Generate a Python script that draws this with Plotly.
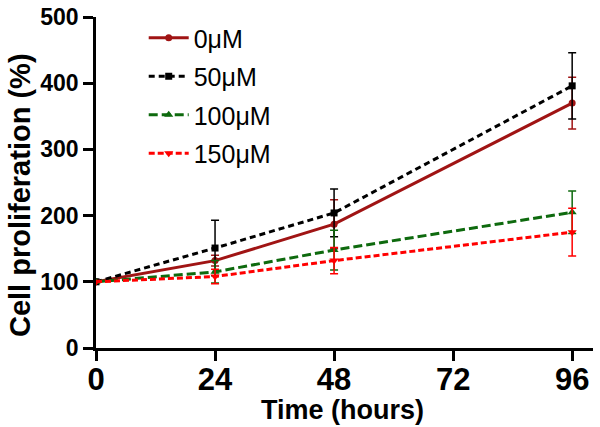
import plotly.graph_objects as go

time_h = [0, 24, 48, 96]
series_names = ["0μM", "50μM", "100μM", "150μM"]
val_0 = [100, 132, 187, 370]
err_0 = [0, 8, 37, 39]
val_50 = [100, 151, 204, 396]
err_50 = [0, 42, 36, 50]
val_100 = [100, 115, 148, 205]
err_100 = [0, 17, 30, 32]
val_150 = [100, 108, 132, 175]
err_150 = [0, 11, 20, 36]
x_ticks = [0, 24, 48, 72, 96]
y_ticks = [0, 100, 200, 300, 400, 500]

styles = [
    dict(color="#A01414", dash="solid", symbol="circle", size=7),
    dict(color="#000000", dash="6px,4px", symbol="square", size=7),
    dict(color="#0E6A0E", dash="9px,4px", symbol="triangle-up", size=8),
    dict(color="#FF0000", dash="6px,3px", symbol="triangle-down", size=8),
]
vals = [val_0, val_50, val_100, val_150]
errs = [err_0, err_50, err_100, err_150]

fig = go.Figure()
for name, v, e, st in zip(series_names, vals, errs, styles):
    fig.add_trace(go.Scatter(
        x=time_h, y=v, name=name, mode="lines+markers",
        legendgroup=name,
        line=dict(color=st["color"], width=3, dash=st["dash"]),
        marker=dict(color=st["color"], symbol=st["symbol"], size=st["size"]),
        error_y=dict(type="data", array=e, visible=True, color=st["color"],
                     thickness=1.5, width=4),
    ))

font_fam = "Liberation Sans, Arial, sans-serif"
fig.update_layout(
    width=600, height=427,
    margin=dict(l=96, r=7, t=17, b=79, autoexpand=False),
    plot_bgcolor="white", paper_bgcolor="white",
    font=dict(family=font_fam, color="black"),
    showlegend=True,
    legend=dict(x=0.096, y=1.006, xanchor="left", yanchor="top",
                font=dict(family=font_fam, size=25, color="black"),
                bgcolor="rgba(0,0,0,0)", tracegroupgap=3,
                itemwidth=40),
    xaxis=dict(range=[0, 100.2], tickvals=x_ticks, ticktext=[str(t) for t in x_ticks],
               showgrid=False, zeroline=False, showline=True, linecolor="black",
               linewidth=2.5, ticks="outside", ticklen=10, tickwidth=2.5,
               tickcolor="black", automargin=False, ticklabelstandoff=-8,
               ticklabeloverflow="allow",
               tickfont=dict(family=font_fam, size=31, color="black", weight="bold")),
    yaxis=dict(range=[0, 500], tickvals=y_ticks, ticktext=[str(t) for t in y_ticks],
               showgrid=False, zeroline=False, showline=True, linecolor="black",
               linewidth=2.5, ticks="outside", ticklen=10, tickwidth=2.5,
               tickcolor="black", automargin=False, ticklabeloverflow="allow",
               tickfont=dict(family=font_fam, size=23, color="black", weight="bold")),
    annotations=[
        dict(text="<b>Time (hours)</b>", xref="paper", yref="paper",
             x=0.495, y=-0.187, xanchor="center", yanchor="middle", showarrow=False,
             font=dict(family=font_fam, size=27, color="black")),
        dict(text="<b>Cell proliferation (%)</b>", xref="paper", yref="paper",
             x=-0.153, y=0.462, xanchor="center", yanchor="middle", showarrow=False,
             textangle=-90, font=dict(family=font_fam, size=29, color="black")),
    ],
)

# remove the default 8px page margin so the figure sits at the window's corner
fig.write_html("out.html",
               config={"displayModeBar": False},
               post_script="document.body.style.margin='0px';")
